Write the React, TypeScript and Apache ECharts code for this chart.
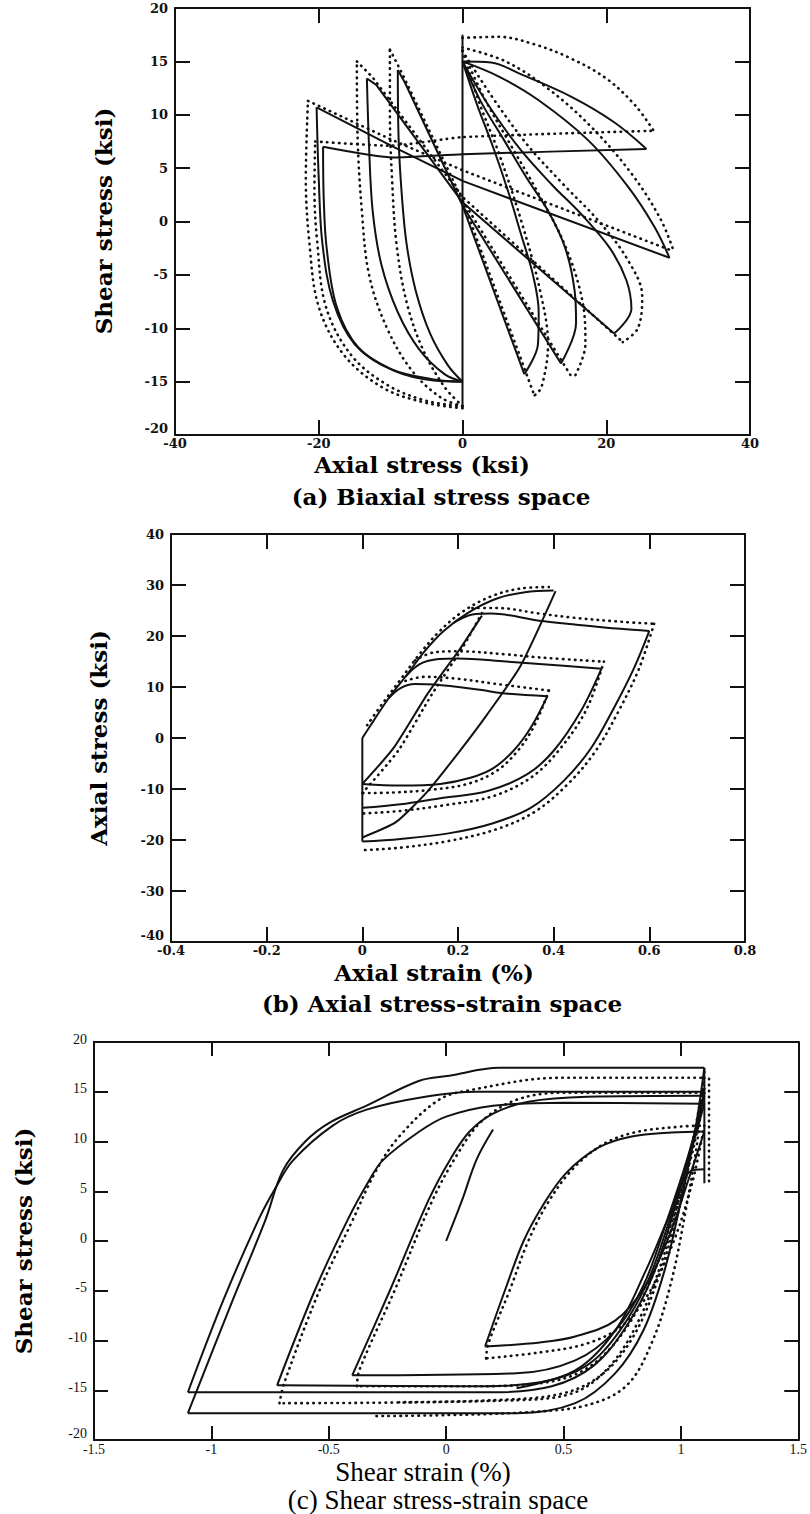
import React, { useEffect, useRef } from "react";
import * as echarts from "echarts";

// ---------- Panel (a): biaxial stress space (x = axial stress, y = shear stress) ----------
const aTicksX = [-40, -20, 0, 20, 40];
const aTicksY = [-20, -15, -10, -5, 0, 5, 10, 15, 20];

const aVert = [[0, -17.5], [0, 17.5]];
const aArcR1 = [[0, 15], [4, 14.9], [8.1, 13.8], [15.1, 11.7], [21.1, 9.3], [25.6, 6.8]];
const aArcR2 = [[0, 15], [5, 13.6], [10.5, 11.4], [17.5, 7.6], [23.1, 3.2], [26.7, -0.5], [28.8, -3.4]];
const aArcR3 = [[0, 15], [3.5, 11], [8.1, 6.7], [12.5, 3.4], [16.5, 0.7], [20.5, -2.5], [22.8, -5.5], [23.5, -8.2], [21.1, -10.5]];
const aArcR4 = [[0, 15], [2.5, 11.3], [5.8, 7.6], [9, 4], [11.9, 1.0], [14.3, -2.5], [15.6, -6.5], [15.8, -9.5], [13.7, -13.3]];
const aArcR5 = [[0, 15], [2, 11], [4.4, 6.7], [6.5, 2.5], [8.1, -1.1], [9.8, -5], [10.6, -8.5], [10.5, -11.5], [8.6, -14.3]];
const aLineA = [[-20.3, 10.7], [-9.6, 7.0], [0, 3.8], [28.8, -3.4]];
const aLineB = [[-19.4, 7.0], [-9.6, 6.0], [0, 6.3], [25.6, 6.8]];
const aLineC = [[-13.3, 13.4], [-12, 12.8], [0, 1.8], [21.1, -10.5]];
const aLineD = [[-9.0, 14.2], [-8, 13], [0, 1.5], [13.7, -13.3]];
const aLineE = [[0, 1.5], [8.6, -14.3]];
const aArcL1 = [[0, -15], [-4, -14.8], [-10, -13.8], [-15, -11.5], [-18, -7.5], [-19.5, -2], [-20, 4], [-20.3, 10.7]];
const aArcL2 = [[0, -15], [-4, -14.9], [-9.5, -14], [-14.5, -11.8], [-17.5, -8], [-18.9, -2.5], [-19.3, 2], [-19.4, 7.0]];
const aArcL3 = [[0, -15], [-2.5, -14.3], [-6, -12], [-9, -8.5], [-11.3, -4], [-12.5, 1], [-13, 7], [-13.3, 13.4]];
const aArcL4 = [[0, -15], [-2, -13.5], [-4.5, -10.5], [-6.5, -6.5], [-7.8, -2], [-8.5, 3], [-8.9, 8], [-9, 14.2]];

const aDArcR1 = [[0, 17.2], [5, 17.3], [10, 16.6], [15, 15.3], [20, 13.4], [24, 10.9], [26.6, 8.5]];
const aDArcR2 = [[0, 16.3], [6, 15], [12, 12.4], [18, 8.8], [23.5, 4.5], [27.5, 0.3], [29.4, -2.8]];
const aDArcR3 = [[0, 16], [4, 11.8], [9, 7.2], [14, 3.5], [19, 0], [23, -3.6], [25, -7], [24.4, -10], [22.3, -11.3]];
const aDArcR4 = [[0, 16], [3, 11.6], [6.5, 7.4], [10.5, 2.7], [14.3, -2.3], [16.7, -7.5], [17.1, -11.5], [15.4, -14.8]];
const aDArcR5 = [[0, 16], [2.4, 11], [5, 6.5], [8.2, 0], [10.8, -6.5], [11.9, -11.5], [11, -15.5], [10, -16.3]];
const aDLineA = [[-21.5, 11.3], [-10, 7.7], [0, 4.8], [29.4, -2.8]];
const aDLineB = [[-20.5, 7.5], [-10, 7.1], [0, 7.9], [26.6, 8.5]];
const aDLineC = [[-14.7, 15.0], [-12.5, 13.5], [0, 2.3], [22.3, -11.3]];
const aDLineD = [[-10.1, 16.1], [-8.5, 14], [0, 2.0], [15.4, -14.8]];
const aDLineE = [[0, 2], [10, -16.3]];
const aDArcL1 = [[0, -17.5], [-5, -17], [-11, -15.6], [-16.5, -12.5], [-20, -8], [-21.3, -2], [-21.8, 4], [-21.5, 11.3]];
const aDArcL2 = [[0, -17.3], [-5, -16.8], [-10.5, -15.3], [-15.5, -12.5], [-19, -8], [-20.2, -2], [-20.6, 3], [-20.5, 7.5]];
const aDArcL3 = [[0, -17.3], [-3, -16.5], [-7, -14], [-10.5, -10], [-13, -5], [-14, 1], [-14.6, 8], [-14.7, 15]];
const aDArcL4 = [[0, -17.3], [-2.5, -15.5], [-5.5, -12], [-7.8, -7.5], [-9.2, -2], [-9.8, 4], [-10.1, 10], [-10.1, 16.1]];

// ---------- Panel (b): axial stress-strain ----------
const bTicksX = [-0.4, -0.2, 0, 0.2, 0.4, 0.6, 0.8];
const bTicksY = [-40, -30, -20, -10, 0, 10, 20, 30, 40];

const bEnvelope = [[0, 0], [0.023, 3.3], [0.055, 7.8], [0.094, 12.5], [0.13, 17], [0.17, 21], [0.22, 24.5], [0.28, 27.3], [0.34, 28.6], [0.40, 28.9]];
const bTop2 = [[0.19, 22.5], [0.23, 24.2], [0.27, 24.4], [0.37, 23.0], [0.44, 22.3], [0.54, 21.4], [0.60, 21.0]];
const bTop3 = [[0.09, 12], [0.12, 14.5], [0.16, 15.5], [0.2, 15.6], [0.3, 15], [0.37, 14.5], [0.5, 13.6]];
const bTop4 = [[0.055, 7.8], [0.08, 9.8], [0.11, 10.6], [0.15, 10.5], [0.25, 9.4], [0.29, 8.8], [0.387, 8.2]];
const bDown4 = [[0.387, 8.2], [0.352, 2.0], [0.316, -2.5], [0.274, -5.9], [0.226, -7.8], [0.163, -9.0], [0.08, -9.3], [0, -9.0]];
const bDown3 = [[0.5, 13.6], [0.457, 5.3], [0.40, -2.5], [0.345, -7.1], [0.262, -10.4], [0.163, -11.8], [0.08, -13], [0, -13.7]];
const bDown2 = [[0.60, 21.0], [0.568, 13.7], [0.526, 5.9], [0.478, -2.0], [0.421, -8.4], [0.352, -13.7], [0.27, -16.8], [0.18, -18.7], [0.08, -19.8], [0, -20.3]];
const bUpA = [[0, -9.0], [0.065, -2.0], [0.136, 8.6], [0.205, 17.6], [0.25, 24.0]];
const bUpB = [[0, -19.5], [0.07, -16.5], [0.136, -10.5], [0.2, -3], [0.26, 4.5], [0.33, 14], [0.404, 28.8]];
const bAxis0 = [[0, 0], [0, -20.3]];

const bDEnvelope = [[0.01, 2.5], [0.04, 6.5], [0.08, 11.5], [0.12, 16.5], [0.16, 20.8], [0.21, 24.8], [0.27, 27.8], [0.33, 29.3], [0.39, 29.6]];
const bDTop2 = [[0.23, 25.5], [0.28, 25.5], [0.37, 24.4], [0.44, 23.6], [0.54, 22.8], [0.61, 22.4]];
const bDTop3 = [[0.11, 15.2], [0.15, 16.8], [0.2, 17.0], [0.3, 16.4], [0.37, 15.8], [0.5, 15.0]];
const bDTop4 = [[0.09, 11.2], [0.13, 12.0], [0.2, 11.6], [0.28, 10.6], [0.39, 9.3]];
const bDDown4 = [[0.39, 9.3], [0.36, 2.5], [0.325, -2.5], [0.28, -6.5], [0.22, -9], [0.14, -10.2], [0.06, -10.7], [0, -10.8]];
const bDDown3 = [[0.505, 15], [0.468, 5.5], [0.41, -2.5], [0.352, -7.8], [0.27, -11.5], [0.17, -13.2], [0.08, -14.3], [0, -14.8]];
const bDDown2 = [[0.61, 22.4], [0.578, 13.5], [0.537, 5.5], [0.488, -2.5], [0.43, -9], [0.36, -14.5], [0.28, -17.9], [0.18, -20.2], [0.08, -21.5], [0, -22]];
const bDUpA = [[0, -10.8], [0.075, -2.5], [0.145, 8.5], [0.21, 17.8], [0.25, 24.5]];

// ---------- Panel (c): shear stress-strain ----------
const cTicksX = [-1.5, -1, -0.5, 0, 0.5, 1, 1.5];
const cTicksY = [-20, -15, -10, -5, 0, 5, 10, 15, 20];

const cLeftA = [[-1.1, -17.3], [-0.91, -6], [-0.77, 2.1], [-0.695, 7.1], [-0.6, 10], [-0.496, 11.9], [-0.339, 13.6], [-0.114, 16.1], [0.013, 16.6], [0.225, 17.4], [1.1, 17.4]];
const cLeftB = [[-1.1, -15.2], [-0.95, -6], [-0.8, 2.1], [-0.73, 5.2], [-0.652, 8.1], [-0.483, 11.6], [-0.339, 13.2], [-0.114, 14.4], [0.13, 15], [1.1, 15]];
const cLeft3 = [[-0.72, -14.5], [-0.56, -5], [-0.42, 2.1], [-0.33, 6], [-0.27, 8.1], [-0.114, 11], [0, 12.5], [0.2, 13.6], [0.5, 13.9], [1.1, 13.8]];
const cLeft4 = [[-0.4, -13.5], [-0.24, -5], [-0.075, 4.1], [0.02, 8.3], [0.1, 11], [0.2, 12.8], [0.35, 14], [0.6, 14.5], [1.1, 14.6]];
const cLeft5 = [[0.166, -10.6], [0.25, -5], [0.33, 0], [0.41, 3.5], [0.51, 6.8], [0.65, 9.4], [0.79, 10.5], [0.96, 10.9], [1.1, 11]];
const cInit = [[0, 0], [0.068, 4.1], [0.13, 8.2], [0.2, 11.2]];
const cRightA = [[1.1, 17.4], [1.06, 11], [1.0, 4], [0.93, -3], [0.84, -9], [0.72, -13.3], [0.55, -16.3], [0.3, -17.3], [-1.1, -17.3]];
const cRightB = [[1.1, 15], [1.04, 9], [0.97, 3], [0.88, -3.5], [0.77, -8.5], [0.63, -12.5], [0.45, -14.6], [0.2, -15.2], [-1.1, -15.2]];
const cRight3 = [[1.1, 13.8], [1.03, 8], [0.95, 2], [0.86, -4], [0.74, -9], [0.6, -12.5], [0.4, -14.2], [0.1, -14.6], [-0.72, -14.5]];
const cRight4 = [[1.1, 14.6], [1.03, 8.5], [0.94, 2], [0.84, -4.5], [0.72, -9], [0.55, -12], [0.3, -13.3], [-0.4, -13.5]];
const cRight5 = [[1.1, 11], [1.03, 6], [0.95, 0.5], [0.85, -4.5], [0.72, -8], [0.55, -9.6], [0.4, -10.2], [0.166, -10.6]];
const cUp6 = [[0.3, -14.8], [0.55, -13], [0.72, -9], [0.85, -3], [0.95, 2.5], [1.04, 7], [1.1, 7.2]];
const cVert = [[1.1, 5.8], [1.1, 17.4]];

const cDLeft3 = [[-0.71, -16.3], [-0.69, -14.3], [-0.54, -5], [-0.4, 2], [-0.3, 7], [-0.2, 10.5], [-0.03, 14.2], [0.11, 15.2], [0.48, 16.4], [1.1, 16.4]];
const cDLeft4 = [[-0.38, -14.6], [-0.37, -13], [-0.22, -5], [-0.06, 4], [0.05, 8.8], [0.15, 12], [0.3, 14.2], [0.5, 14.9], [1.1, 14.9]];
const cDLeft5 = [[0.17, -11.8], [0.18, -10.3], [0.27, -5], [0.35, 0], [0.43, 3.7], [0.53, 7], [0.66, 9.6], [0.8, 10.9], [1.0, 11.5], [1.1, 11.6]];
const cDRight3 = [[1.1, 16.4], [1.05, 10], [0.99, 4], [0.92, -2], [0.82, -8], [0.7, -12.5], [0.55, -15.2], [0.3, -16], [-0.71, -16.3]];
const cDRightA = [[1.1, 17], [1.07, 10], [1.02, 3], [0.96, -4], [0.88, -10], [0.77, -14.5], [0.6, -16.5], [0.35, -17.2], [0, -17.5], [-0.3, -17.6]];
const cDRight4 = [[1.1, 14.9], [1.05, 9], [0.97, 2.5], [0.87, -4], [0.76, -9], [0.6, -12.8], [0.4, -14.3], [0.1, -14.6], [-0.38, -14.6]];
const cDRight5 = [[1.1, 11.6], [1.05, 6], [0.97, 0], [0.87, -5], [0.75, -8.5], [0.6, -10.3], [0.4, -11.2], [0.17, -11.8]];
const cDRightB = [[1.1, 15.3], [1.05, 9.5], [0.99, 3], [0.9, -4], [0.8, -9.5], [0.67, -13.3], [0.5, -15.3], [0.2, -16], [-0.2, -16.2]];
const cDVert = [[1.12, 6], [1.12, 16.4]];

const SERIF_BOLD = '"DejaVu Serif"';
const TIMES = '"Liberation Serif"';
const INK = "#111";

type Pts = number[][];

function solid(panel: number, data: Pts, smooth: number | boolean = 0.35) {
  return {
    type: "line",
    xAxisIndex: panel * 2,
    yAxisIndex: panel * 2,
    data,
    symbol: "none",
    showSymbol: false,
    smooth,
    silent: true,
    lineStyle: { color: INK, width: 2 },
  };
}
function dotted(panel: number, data: Pts, smooth: number | boolean = 0.35) {
  return {
    type: "line",
    xAxisIndex: panel * 2,
    yAxisIndex: panel * 2,
    data,
    symbol: "none",
    showSymbol: false,
    smooth,
    silent: true,
    lineStyle: { color: INK, width: 2.6, type: [0.5, 5.5], cap: "round" },
  };
}

function axesFor(
  grid: number,
  xt: number[],
  yt: number[],
  font: string,
  fontSize: number,
  weight: string,
  tickLen: number,
  yLift: number
) {
  const line = { show: true, onZero: false, lineStyle: { color: INK, width: 2 } };
  const tick = { show: true, inside: true, length: tickLen, lineStyle: { color: INK, width: 2 } };
  const fmt = (v: number) => String(Math.round(v * 10) / 10);
  const base = { color: INK, fontFamily: font, fontSize, fontWeight: weight };
  const yMin = yt[0];
  const yFmt = (v: number) => (Math.abs(v - yMin) < 1e-9 ? `{low|${fmt(v)}}` : `{n|${fmt(v)}}`);
  const xi = xt[1] - xt[0];
  const yi = yt[1] - yt[0];
  const xBase = { type: "value", gridIndex: grid, min: xt[0], max: xt[xt.length - 1], interval: xi, splitLine: { show: false }, axisLine: line, axisTick: tick };
  const yBase = { type: "value", gridIndex: grid, min: yt[0], max: yt[yt.length - 1], interval: yi, splitLine: { show: false }, axisLine: line, axisTick: tick };
  return {
    x: [
      { ...xBase, position: "bottom", axisLabel: { show: true, ...base, margin: 2, formatter: fmt } },
      { ...xBase, position: "top", axisLabel: { show: false } },
    ],
    y: [
      {
        ...yBase,
        position: "left",
        axisLabel: {
          show: true,
          ...base,
          margin: 7,
          formatter: yFmt,
          rich: {
            n: { ...base, padding: [0, 0, yLift, 0] },
            low: { ...base, padding: [0, 0, 14, 0] },
          },
        },
      },
      { ...yBase, position: "right", axisLabel: { show: false } },
    ],
  };
}

function txt(x: number, y: number, text: string, font: string, rotate = 0) {
  return {
    type: "text",
    x,
    y,
    rotation: rotate,
    silent: true,
    style: {
      text,
      font,
      fill: "#000",
      textAlign: "center",
      textVerticalAlign: "middle",
      align: "center",
      verticalAlign: "middle",
    },
  };
}

export default function App() {
  const ref = useRef<HTMLDivElement>(null);
  useEffect(() => {
    if (!ref.current) return;
    const chart = echarts.init(ref.current, null, { renderer: "svg" });
    const A = axesFor(0, aTicksX, aTicksY, SERIF_BOLD, 13, "bold", 15, 0);
    const B = axesFor(1, bTicksX, bTicksY, SERIF_BOLD, 13, "bold", 15, 0);
    const C = axesFor(2, cTicksX, cTicksY, TIMES, 14, "normal", 14, 6);

    const series = [
      solid(0, aVert, false), solid(0, aArcR1), solid(0, aArcR2), solid(0, aArcR3), solid(0, aArcR4), solid(0, aArcR5),
      solid(0, aLineA, false), solid(0, aLineB, 0.2), solid(0, aLineC, false), solid(0, aLineD, false), solid(0, aLineE, false),
      solid(0, aArcL1), solid(0, aArcL2), solid(0, aArcL3), solid(0, aArcL4),
      dotted(0, aDArcR1), dotted(0, aDArcR2), dotted(0, aDArcR3), dotted(0, aDArcR4), dotted(0, aDArcR5),
      dotted(0, aDLineA, false), dotted(0, aDLineB, 0.2), dotted(0, aDLineC, false), dotted(0, aDLineD, false), dotted(0, aDLineE, false),
      dotted(0, aDArcL1), dotted(0, aDArcL2), dotted(0, aDArcL3), dotted(0, aDArcL4),

      solid(1, bEnvelope), solid(1, bTop2), solid(1, bTop3), solid(1, bTop4),
      solid(1, bDown4), solid(1, bDown3), solid(1, bDown2), solid(1, bUpA, 0.2), solid(1, bUpB, 0.2), solid(1, bAxis0, false),
      dotted(1, bDEnvelope), dotted(1, bDTop2), dotted(1, bDTop3), dotted(1, bDTop4),
      dotted(1, bDDown4), dotted(1, bDDown3), dotted(1, bDDown2), dotted(1, bDUpA, 0.2),

      solid(2, cLeftA), solid(2, cLeftB), solid(2, cLeft3), solid(2, cLeft4), solid(2, cLeft5), solid(2, cInit),
      solid(2, cRightA), solid(2, cRightB), solid(2, cRight3), solid(2, cRight4), solid(2, cRight5), solid(2, cUp6), solid(2, cVert, false),
      dotted(2, cDLeft3), dotted(2, cDLeft4), dotted(2, cDLeft5),
      dotted(2, cDRight3), dotted(2, cDRightA), dotted(2, cDRight4), dotted(2, cDRight5), dotted(2, cDRightB), dotted(2, cDVert, false),
    ];

    const titleFont = `bold 23px ${SERIF_BOLD}`;
    const timesFont = `27px ${TIMES}`;
    chart.setOption({
      animation: false,
      backgroundColor: "#fff",
      grid: [
        { left: 175, top: 8, width: 575, height: 427 },
        { left: 171, top: 534, width: 574, height: 408 },
        { left: 94, top: 1042, width: 706, height: 398 },
      ],
      xAxis: [...A.x, ...B.x, ...C.x],
      yAxis: [...A.y, ...B.y, ...C.y],
      series,
      graphic: [
        txt(103, 221, "Shear stress (ksi)", titleFont, Math.PI / 2),
        txt(422, 464, "Axial stress (ksi)", titleFont),
        txt(441, 496, "(a) Biaxial stress space", titleFont),
        txt(98, 738, "Axial stress (ksi)", titleFont, Math.PI / 2),
        txt(434, 972, "Axial strain (%)", titleFont),
        txt(442, 1003, "(b) Axial stress-strain space", titleFont),
        txt(23, 1241, "Shear stress (ksi)", titleFont, Math.PI / 2),
        txt(423, 1472, "Shear strain (%)", timesFont),
        txt(438, 1500, "(c) Shear stress-strain space", timesFont),
      ],
    });
    return () => chart.dispose();
  }, []);
  return (
    <div
      ref={ref}
      style={{ position: "absolute", left: 0, top: 0, width: 810, height: 1514, background: "#fff" }}
    />
  );
}
